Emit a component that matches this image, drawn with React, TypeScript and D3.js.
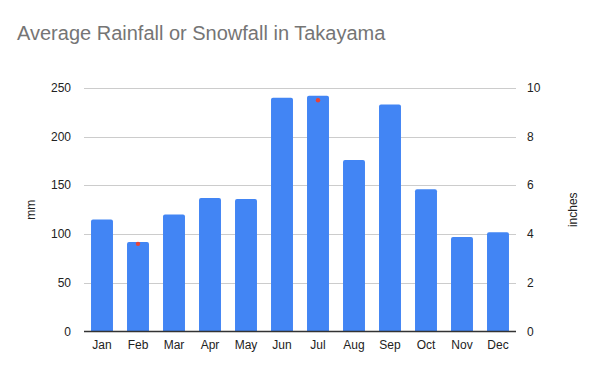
import React, { useRef, useEffect } from 'react';
import * as d3 from 'd3';

const months = ['Jan', 'Feb', 'Mar', 'Apr', 'May', 'Jun', 'Jul', 'Aug', 'Sep', 'Oct', 'Nov', 'Dec'];
const rainfallMm = [115, 92, 120, 137, 136, 240, 242, 176, 233, 146, 97, 102];
// the few points of the inches series that are visible
const markerMonths = ['Feb', 'Jul'];
const markerInches = [3.6, 9.5];
const mmTicks = [0, 50, 100, 150, 200, 250];
const inchTicks = [0, 2, 4, 6, 8, 10];

const W = 600;
const H = 371;

const App: React.FC = () => {
  const svgRef = useRef<SVGSVGElement | null>(null);

  useEffect(() => {
    if (!svgRef.current) return;
    const svg = d3.select(svgRef.current);
    svg.selectAll('*').remove();

    const left = 84, right = 516, top = 88, bottom = 331.5;
    const font = 'Arial, "Liberation Sans", sans-serif';

    svg.append('rect').attr('width', W).attr('height', H).attr('fill', '#fff');

    svg.append('text')
      .attr('x', 17).attr('y', 40)
      .attr('font-family', font).attr('font-size', 20)
      .attr('fill', '#757575')
      .text('Average Rainfall or Snowfall in Takayama');

    const x = d3.scaleBand().domain(months).range([left, right]).paddingInner(0.39).paddingOuter(0.195);
    const yMm = d3.scaleLinear().domain([0, 250]).range([bottom, top]);
    const yIn = d3.scaleLinear().domain([0, 10]).range([bottom, top]);

    // grid
    svg.append('g').selectAll('line')
      .data(mmTicks.filter(t => t > 0))
      .enter().append('line')
      .attr('x1', left).attr('x2', right)
      .attr('y1', d => Math.round(yMm(d)) + 0.5).attr('y2', d => Math.round(yMm(d)) + 0.5)
      .attr('stroke', '#cccccc').attr('stroke-width', 1);

    // bars with slightly rounded tops
    const r = 2;
    svg.append('g').selectAll('path')
      .data(rainfallMm)
      .enter().append('path')
      .attr('d', (d, i) => {
        const x0 = x(months[i]) || 0;
        const w = x.bandwidth();
        const y0 = yMm(d);
        return `M${x0},${bottom}V${y0 + r}Q${x0},${y0} ${x0 + r},${y0}H${x0 + w - r}Q${x0 + w},${y0} ${x0 + w},${y0 + r}V${bottom}Z`;
      })
      .attr('fill', '#4285f4');

    // red markers
    svg.append('g').selectAll('circle')
      .data(markerInches)
      .enter().append('circle')
      .attr('cx', (d, i) => (x(markerMonths[i]) || 0) + x.bandwidth() / 2)
      .attr('cy', d => yIn(d))
      .attr('r', 2.2)
      .attr('fill', '#ea4335');

    // baseline
    svg.append('line')
      .attr('x1', left).attr('x2', right)
      .attr('y1', bottom).attr('y2', bottom)
      .attr('stroke', '#333333').attr('stroke-width', 1.3);

    // left axis labels
    svg.append('g').selectAll('text')
      .data(mmTicks)
      .enter().append('text')
      .attr('x', 71).attr('y', d => yMm(d) + 4)
      .attr('text-anchor', 'end')
      .attr('font-family', font).attr('font-size', 12).attr('fill', '#222')
      .text(d => d);

    // right axis labels
    svg.append('g').selectAll('text')
      .data(inchTicks)
      .enter().append('text')
      .attr('x', 527).attr('y', d => yIn(d) + 4)
      .attr('text-anchor', 'start')
      .attr('font-family', font).attr('font-size', 12).attr('fill', '#222')
      .text(d => d);

    // month labels
    svg.append('g').selectAll('text')
      .data(months)
      .enter().append('text')
      .attr('x', d => (x(d) || 0) + x.bandwidth() / 2).attr('y', 349)
      .attr('text-anchor', 'middle')
      .attr('font-family', font).attr('font-size', 12).attr('fill', '#222')
      .text(d => d);

    svg.append('text')
      .attr('transform', `translate(35, ${(top + bottom) / 2}) rotate(-90)`)
      .attr('text-anchor', 'middle')
      .attr('font-family', font).attr('font-size', 12).attr('fill', '#222')
      .text('mm');

    svg.append('text')
      .attr('transform', `translate(577, ${(top + bottom) / 2}) rotate(-90)`)
      .attr('text-anchor', 'middle')
      .attr('font-family', font).attr('font-size', 12).attr('fill', '#222')
      .text('inches');
  }, []);

  return (
    <div style={{ position: 'absolute', left: 0, top: 0, width: W, height: H }}>
      <svg ref={svgRef} width={W} height={H} style={{ display: 'block' }}></svg>
    </div>
  );
};

export default App;
